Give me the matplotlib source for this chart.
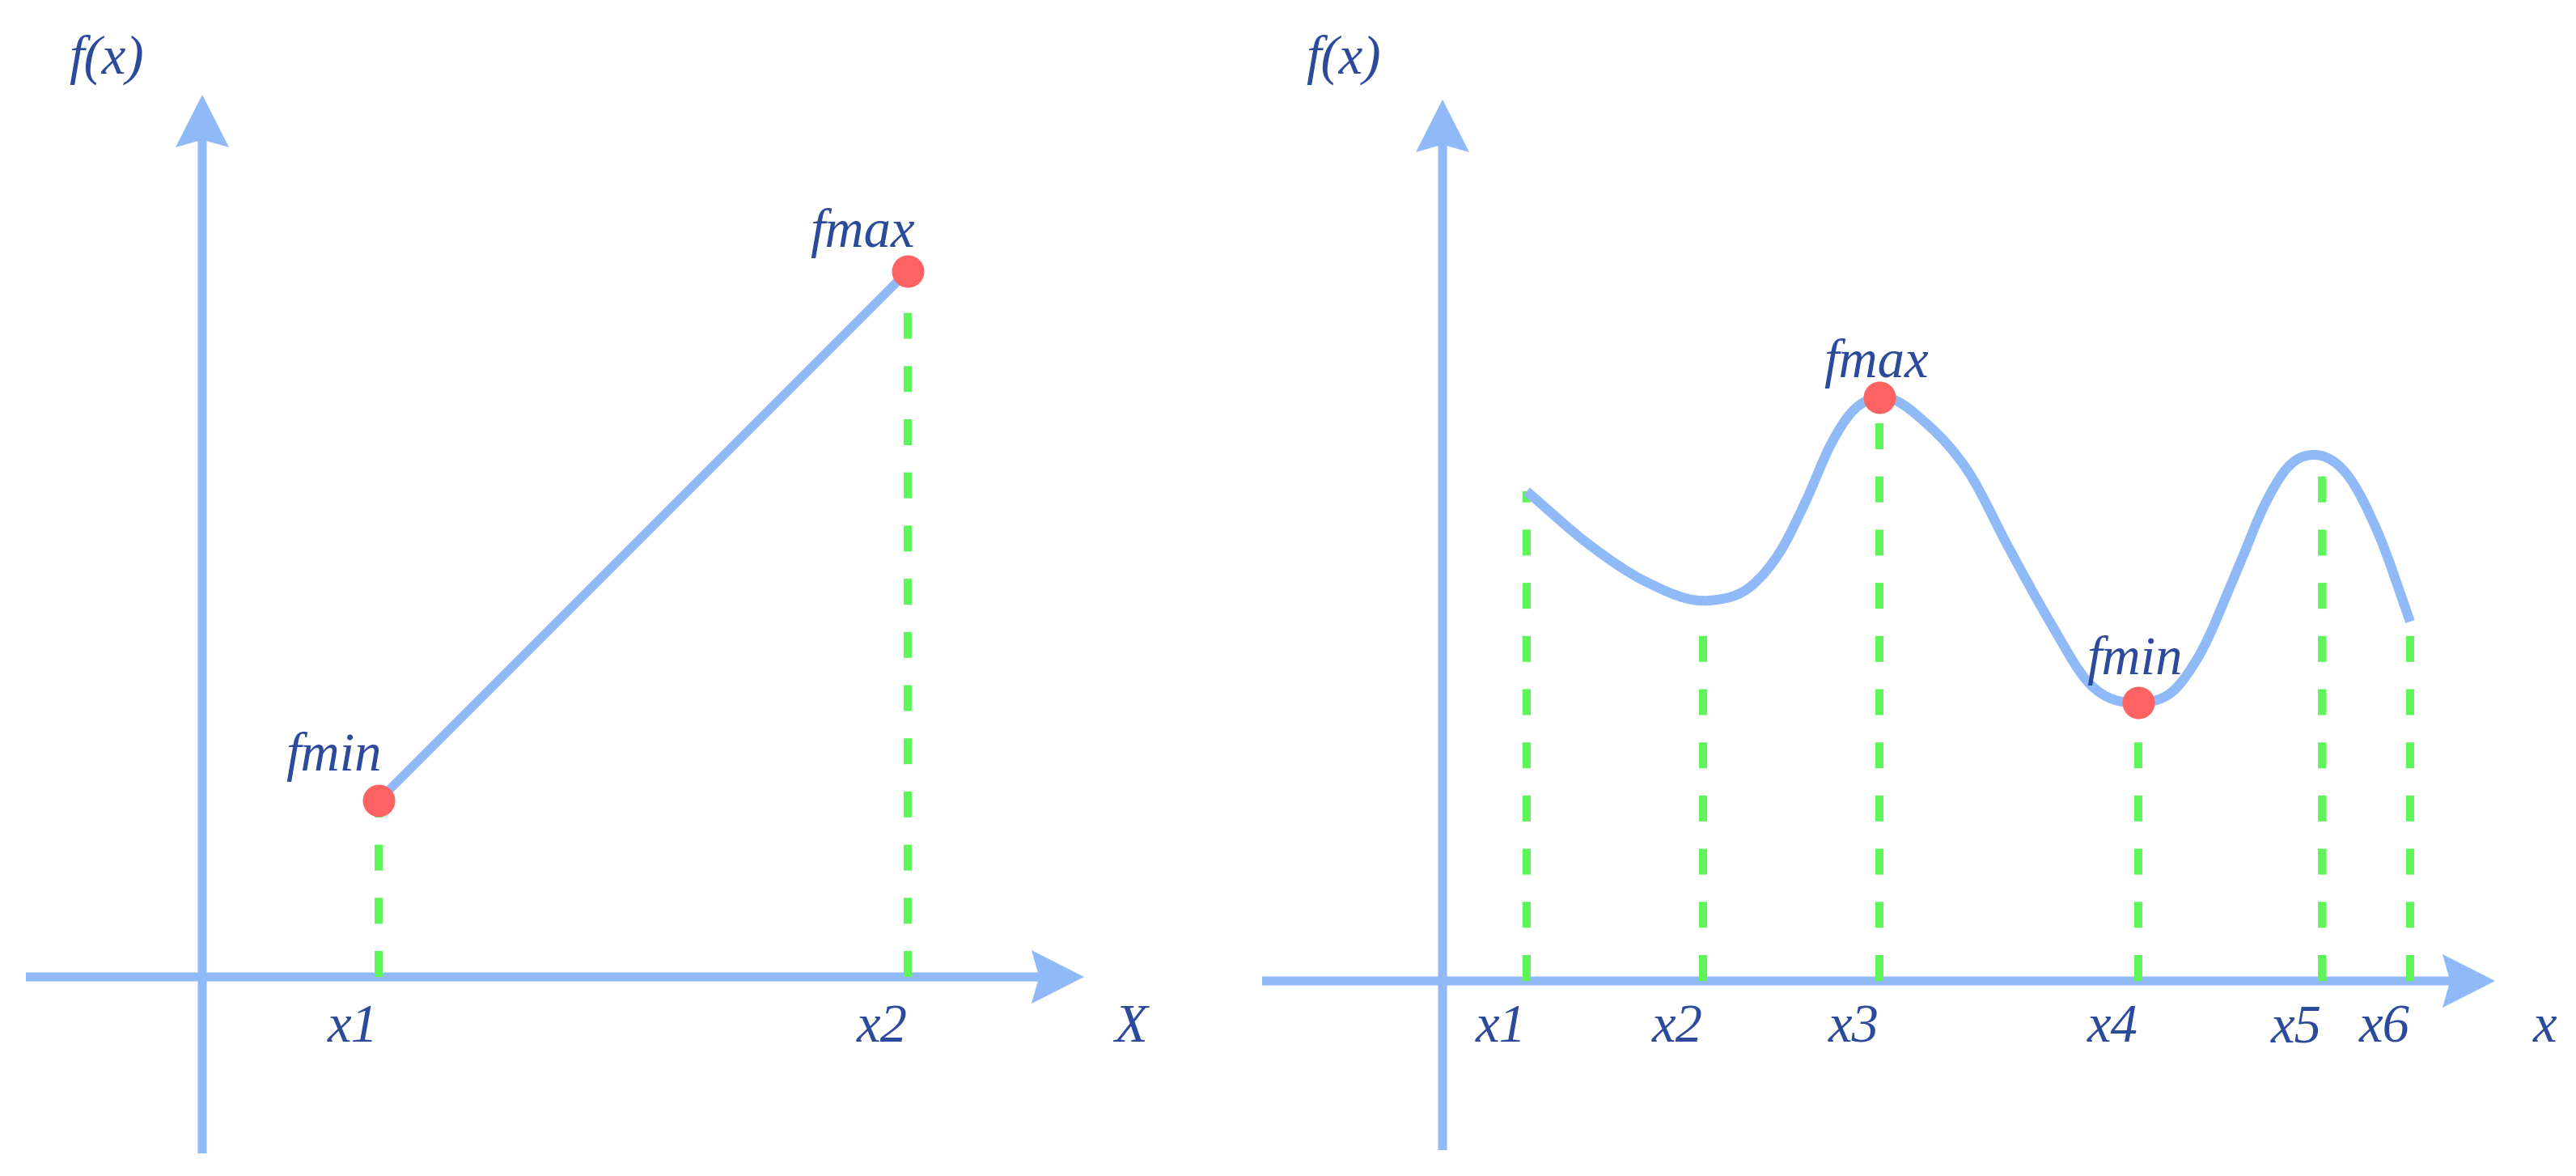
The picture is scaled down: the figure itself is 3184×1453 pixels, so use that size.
import matplotlib
matplotlib.use("Agg")
import matplotlib.pyplot as plt
from matplotlib.path import Path
from matplotlib.patches import PathPatch

# --- data ---
# left panel: straight line between two points (unit = one x step)
left_x = [1.0, 4.0]
left_y = [1.0, 4.0]
left_ticks = ["x1", "x2"]

# right panel: curve (units of 100 px from origin)
curve_x = [1.04, 1.84, 2.50, 3.30, 3.84, 4.17, 4.50, 4.80, 5.05, 5.40, 6.00,
           6.50, 7.00, 7.50, 8.00, 8.60, 9.07, 9.34, 9.84, 10.17, 10.45,
           10.77, 11.17, 11.57, 11.96]
curve_y = [6.05, 5.37, 4.94, 4.70, 4.90, 5.30, 5.95, 6.63, 7.02, 7.21, 6.87,
           6.29, 5.35, 4.45, 3.67, 3.44, 3.62, 4.00, 5.12, 5.90, 6.35,
           6.50, 6.27, 5.52, 4.44]
drop_x = [1.04, 3.22, 5.40, 8.60, 10.87, 11.96]
drop_top = [6.05, 4.32, 7.21, 3.44, 6.47, 4.44]
right_ticks = ["x1", "x2", "x3", "x4", "x5", "x6"]
fmax_pt = (5.40, 7.21)
fmin_pt = (8.60, 3.44)

# --- style ---
BLUE = "#8fb9f7"
GREEN = "#5df55a"
RED = "#ff6262"
TXT = "#2c4a9c"
DPI = 100
PT = 72 / DPI  # points per pixel
FONT = dict(family="Liberation Serif", style="italic", size=48, color=TXT)

fig = plt.figure(figsize=(31.84, 14.53), dpi=DPI)
fig.patch.set_facecolor("white")

W, H = 3184, 1453


def make_axes(px0, px1, ox, oy, unit):
    ax = fig.add_axes([px0 / W, 0, (px1 - px0) / W, 1])
    ax.set_xlim((px0 - ox) / unit, (px1 - ox) / unit)
    ax.set_ylim((oy - H) / unit, oy / unit)
    ax.axis("off")
    return ax


def draw_axes(ax, unit, x0, x1, y0, y1):
    kw = dict(width=11 / unit, head_width=66 / unit, head_length=65 / unit,
              overhang=0.12, length_includes_head=True, color=BLUE, lw=0)
    ax.arrow(x0, 0, x1 - x0, 0, **kw)
    ax.arrow(0, y0, 0, y1 - y0, **kw)


def drops(ax, xs, tops):
    for x, t in zip(xs, tops):
        ax.plot([x, x], [0, t], color=GREEN, lw=10 * PT,
                dashes=(3.2, 3.37), solid_capstyle="butt", zorder=2)


def smooth(xs, ys):
    # hermite-style bezier segments through the traced points
    n = len(xs)
    d = [(ys[i + 1] - ys[i]) / (xs[i + 1] - xs[i]) for i in range(n - 1)]
    h = [xs[i + 1] - xs[i] for i in range(n - 1)]
    m = [d[0]]
    for i in range(1, n - 1):
        m.append((d[i - 1] * h[i] + d[i] * h[i - 1]) / (h[i - 1] + h[i]))
    m.append(d[-1])
    verts = [(xs[0], ys[0])]
    codes = [Path.MOVETO]
    for i in range(n - 1):
        t = h[i] / 3
        verts += [(xs[i] + t, ys[i] + m[i] * t),
                  (xs[i + 1] - t, ys[i + 1] - m[i + 1] * t),
                  (xs[i + 1], ys[i + 1])]
        codes += [Path.CURVE4] * 3
    return Path(verts, codes)


# ---------- left panel ----------
axl = make_axes(0, 1560, 250, 1207, 218)
draw_axes(axl, 218, -1.0, 5.0, -1.0, 5.0)
drops(axl, left_x, left_y)
axl.plot(left_x, left_y, color=BLUE, lw=11 * PT, solid_capstyle="butt", zorder=3)
axl.plot(left_x, left_y, "o", color=RED, ms=40 * PT, mew=0, zorder=4)

for x, lab in zip(left_x, left_ticks):
    axl.annotate(lab, (x, 0), xytext=(0, -80), textcoords="offset pixels",
                 ha="right", va="baseline", **FONT)
axl.annotate("X", (5.0, 0), xytext=(58, -80), textcoords="offset pixels",
             ha="center", va="baseline", **FONT)
axl.annotate("f(x)", (0, 5.0), xytext=(-118, 26), textcoords="offset pixels",
             ha="center", va="baseline", **FONT)
axl.annotate("fmin", (left_x[0], left_y[0]), xytext=(4, 37),
             textcoords="offset pixels", ha="right", va="baseline", **FONT)
axl.annotate("fmax", (left_x[1], left_y[1]), xytext=(9, 30),
             textcoords="offset pixels", ha="right", va="baseline", **FONT)

# ---------- right panel ----------
axr = make_axes(1560, 3184, 1783, 1212, 100)
draw_axes(axr, 100, -2.23, 13.01, -2.09, 10.89)
drops(axr, drop_x, drop_top)
axr.add_patch(PathPatch(smooth(curve_x, curve_y), fill=False, edgecolor=BLUE,
                        lw=12 * PT, capstyle="butt", joinstyle="round", zorder=3))
axr.plot([fmax_pt[0], fmin_pt[0]], [fmax_pt[1], fmin_pt[1]], "o", color=RED,
         ms=40 * PT, mew=0, zorder=4)

for x, lab in zip(drop_x, right_ticks):
    axr.annotate(lab, (x, 0), xytext=(0, -75), textcoords="offset pixels",
                 ha="right", va="baseline", **FONT)
axr.annotate("x", (13.01, 0), xytext=(62, -75), textcoords="offset pixels",
             ha="center", va="baseline", **FONT)
axr.annotate("f(x)", (0, 10.89), xytext=(-122, 32), textcoords="offset pixels",
             ha="center", va="baseline", **FONT)
axr.annotate("fmax", fmax_pt, xytext=(-4, 25), textcoords="offset pixels",
             ha="center", va="baseline", **FONT)
axr.annotate("fmin", fmin_pt, xytext=(-4, 35), textcoords="offset pixels",
             ha="center", va="baseline", **FONT)

fig.savefig("out.png", dpi=DPI)
